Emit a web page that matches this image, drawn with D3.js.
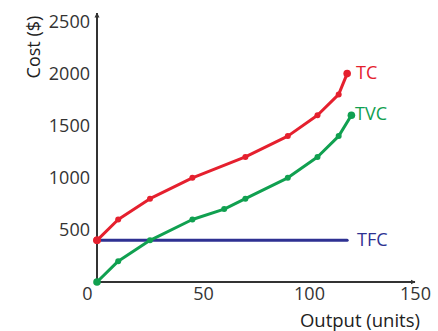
<!DOCTYPE html>
<html>
<head>
<meta charset="utf-8">
<script src="https://cdn.jsdelivr.net/npm/d3@7"></script>
<style>
  body { margin: 0; background: #fff; }
  text { font-family: "Open Sans", sans-serif; }
</style>
</head>
<body>
<svg id="chart" width="438" height="331"></svg>
<script>
// data
var tcOutput  = [0, 10, 25, 45, 70, 90, 104, 114, 118];
var tcCost    = [400, 600, 800, 1000, 1200, 1400, 1600, 1800, 2000];
var tvcOutput = [0, 10, 25, 45, 60, 70, 90, 104, 114, 120];
var tvcCost   = [0, 200, 400, 600, 700, 800, 1000, 1200, 1400, 1600];
var tfcOutput = [0, 118];
var tfcCost   = [400, 400];
var xTicks = [0, 50, 100, 150];
var yTicks = [500, 1000, 1500, 2000, 2500];

var svg = d3.select('#chart');

var x = d3.scaleLinear().domain([0, 150]).range([97, 415]);
var y = d3.scaleLinear().domain([0, 2500]).range([282, 21.5]);

// arrow head
svg.append('defs').append('marker')
    .attr('id', 'arrow')
    .attr('viewBox', '0 0 10 10')
    .attr('refX', 9).attr('refY', 5)
    .attr('markerWidth', 5).attr('markerHeight', 6)
    .attr('markerUnits', 'userSpaceOnUse')
    .attr('orient', 'auto')
    .append('path')
    .attr('d', 'M0,0 L10,5 L0,10 z')
    .attr('fill', '#333');

// axes (ticks + labels only)
var gx = svg.append('g')
    .attr('transform', 'translate(0,' + y(0) + ')')
    .call(d3.axisBottom(x).tickValues(xTicks).tickFormat(d3.format('d')).tickSize(0).tickPadding(5));
gx.select('.domain').remove();
gx.selectAll('text')
    .attr('font-size', 18)
    .attr('fill', '#333')
    .style('font-family', '"Open Sans", sans-serif')
    .attr('dx', d => d === 0 ? -10 : 0);

var gy = svg.append('g')
    .attr('transform', 'translate(' + (x(0) - 7) + ',0)')
    .call(d3.axisLeft(y).tickValues(yTicks).tickFormat(d3.format('d')).tickSize(0).tickPadding(0));
gy.select('.domain').remove();
gy.selectAll('text')
    .attr('font-size', 18)
    .attr('fill', '#333')
    .style('font-family', '"Open Sans", sans-serif');

// axis lines with arrows
svg.append('line')
    .attr('x1', x(0)).attr('y1', y(0))
    .attr('x2', 415).attr('y2', y(0))
    .attr('stroke', '#333').attr('stroke-width', 2)
    .attr('marker-end', 'url(#arrow)');
svg.append('line')
    .attr('x1', x(0)).attr('y1', y(0) + 1)
    .attr('x2', x(0)).attr('y2', 13)
    .attr('stroke', '#333').attr('stroke-width', 2)
    .attr('marker-end', 'url(#arrow)');

// axis titles
svg.append('text')
    .attr('transform', 'translate(35,47) rotate(-90)')
    .attr('text-anchor', 'middle')
    .attr('dominant-baseline', 'middle')
    .attr('font-size', 18)
    .attr('fill', '#222')
    .text('Cost ($)');
svg.append('text')
    .attr('x', 420).attr('y', 322)
    .attr('text-anchor', 'end')
    .attr('dominant-baseline', 'middle')
    .attr('font-size', 18.5)
    .attr('fill', '#222')
    .text('Output (units)');

var line = d3.line().x(d => x(d[0])).y(d => y(d[1]));

var series = [
    { name: 'TFC', xs: tfcOutput, ys: tfcCost, color: '#2e3192', dots: false, lx: 357, ly: 241 },
    { name: 'TVC', xs: tvcOutput, ys: tvcCost, color: '#10a050', dots: true, lx: 355, ly: 115 },
    { name: 'TC',  xs: tcOutput,  ys: tcCost,  color: '#e5202e', dots: true, lx: 356, ly: 74 }
];

series.forEach(function (s) {
    var pts = s.xs.map((v, i) => [v, s.ys[i]]);
    svg.append('path')
        .datum(pts)
        .attr('d', line)
        .attr('fill', 'none')
        .attr('stroke', s.color)
        .attr('stroke-width', 3)
        .attr('stroke-linejoin', 'round')
        .attr('stroke-linecap', 'round');
    if (s.dots) {
        svg.append('g')
            .selectAll('circle')
            .data(pts)
            .enter()
            .append('circle')
            .attr('cx', d => x(d[0]))
            .attr('cy', d => y(d[1]))
            .attr('r', (d, i) => (i === 0 || i === pts.length - 1) ? 3.8 : 3)
            .attr('fill', s.color);
    }
    svg.append('text')
        .attr('x', s.lx).attr('y', s.ly)
        .attr('dominant-baseline', 'middle')
        .attr('font-size', 18)
        .attr('fill', s.color)
        .text(s.name);
});

// TC start point sits on top of the TFC line
svg.append('circle')
    .attr('cx', x(tcOutput[0])).attr('cy', y(tcCost[0])).attr('r', 3.8).attr('fill', '#e5202e');
</script>
</body>
</html>
